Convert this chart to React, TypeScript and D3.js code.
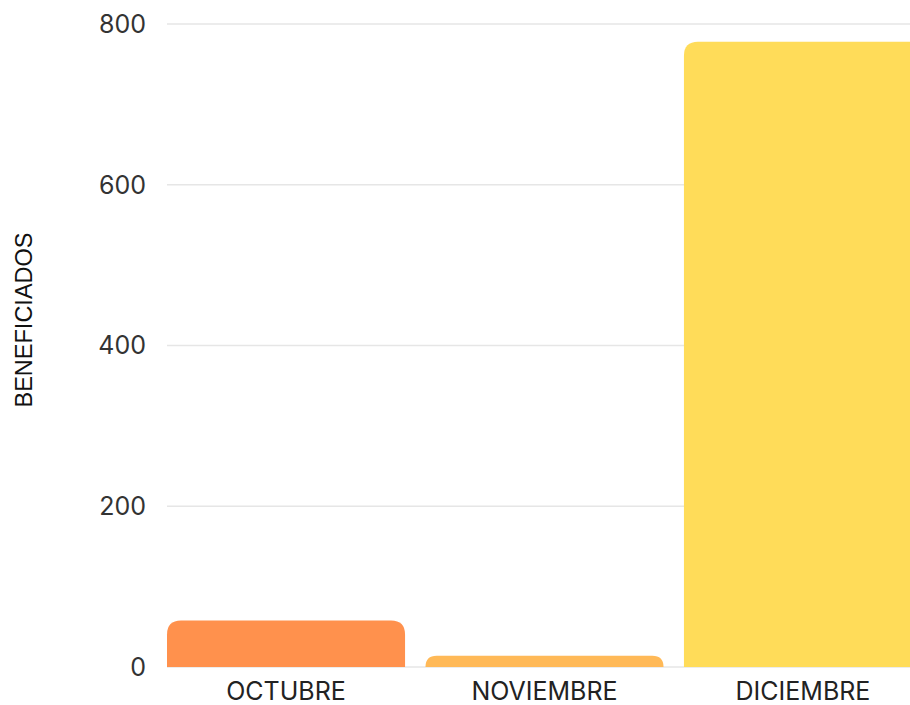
import React from "react";
import * as d3 from "d3";

// data
const months = ["OCTUBRE", "NOVIEMBRE", "DICIEMBRE"];
const beneficiados = [58, 14, 778];
const barColors = ["#ff914d", "#ffb957", "#ffdc59"];
const yTicks = [0, 200, 400, 600, 800];

const W = 910;
const H = 705;

// bar path with rounded top corners only
function topRounded(x: number, y: number, w: number, h: number, r: number) {
  const rr = Math.min(r, h, w / 2);
  return `M${x},${y + h}V${y + rr}Q${x},${y} ${x + rr},${y}H${x + w - rr}Q${x + w},${y} ${x + w},${y + rr}V${y + h}Z`;
}

export default function App() {
  const xScale = d3.scaleBand().domain(months).range([167, 922]).paddingInner(0.079).paddingOuter(0);
  const yScale = d3.scaleLinear().domain([0, 800]).range([667, 24]);

  return (
    <svg width={W} height={H} style={{ position: "absolute", left: 0, top: 0, background: "#fff" }}>
      {yTicks.map((t) => (
        <g key={t}>
          <line x1={167} x2={W} y1={yScale(t)} y2={yScale(t)} stroke="#e6e6e6" strokeWidth={1.5} />
          <text
            x={146}
            y={yScale(t)}
            dy="0.35em"
            textAnchor="end"
            fontFamily="Inter, 'Open Sans', sans-serif"
            fontSize={25}
            fill="#333"
          >
            {t}
          </text>
        </g>
      ))}
      {months.map((m, i) => {
        const x = xScale(m) as number;
        const y = yScale(beneficiados[i]);
        return (
          <path
            key={m}
            d={topRounded(x, y, xScale.bandwidth(), yScale(0) - y, 14)}
            fill={barColors[i]}
          />
        );
      })}
      {months.map((m) => (
        <text
          key={m}
          x={(xScale(m) as number) + xScale.bandwidth() / 2}
          y={700}
          textAnchor="middle"
          fontFamily="Inter, 'Open Sans', sans-serif"
          fontSize={25}
          fill="#222"
        >
          {m}
        </text>
      ))}
      <text
        transform="translate(32,320) rotate(-90)"
        textAnchor="middle"
        fontFamily="'Liberation Sans', Arial, sans-serif"
        fontSize={23.5}
        fill="#111"
      >
        BENEFICIADOS
      </text>
    </svg>
  );
}
